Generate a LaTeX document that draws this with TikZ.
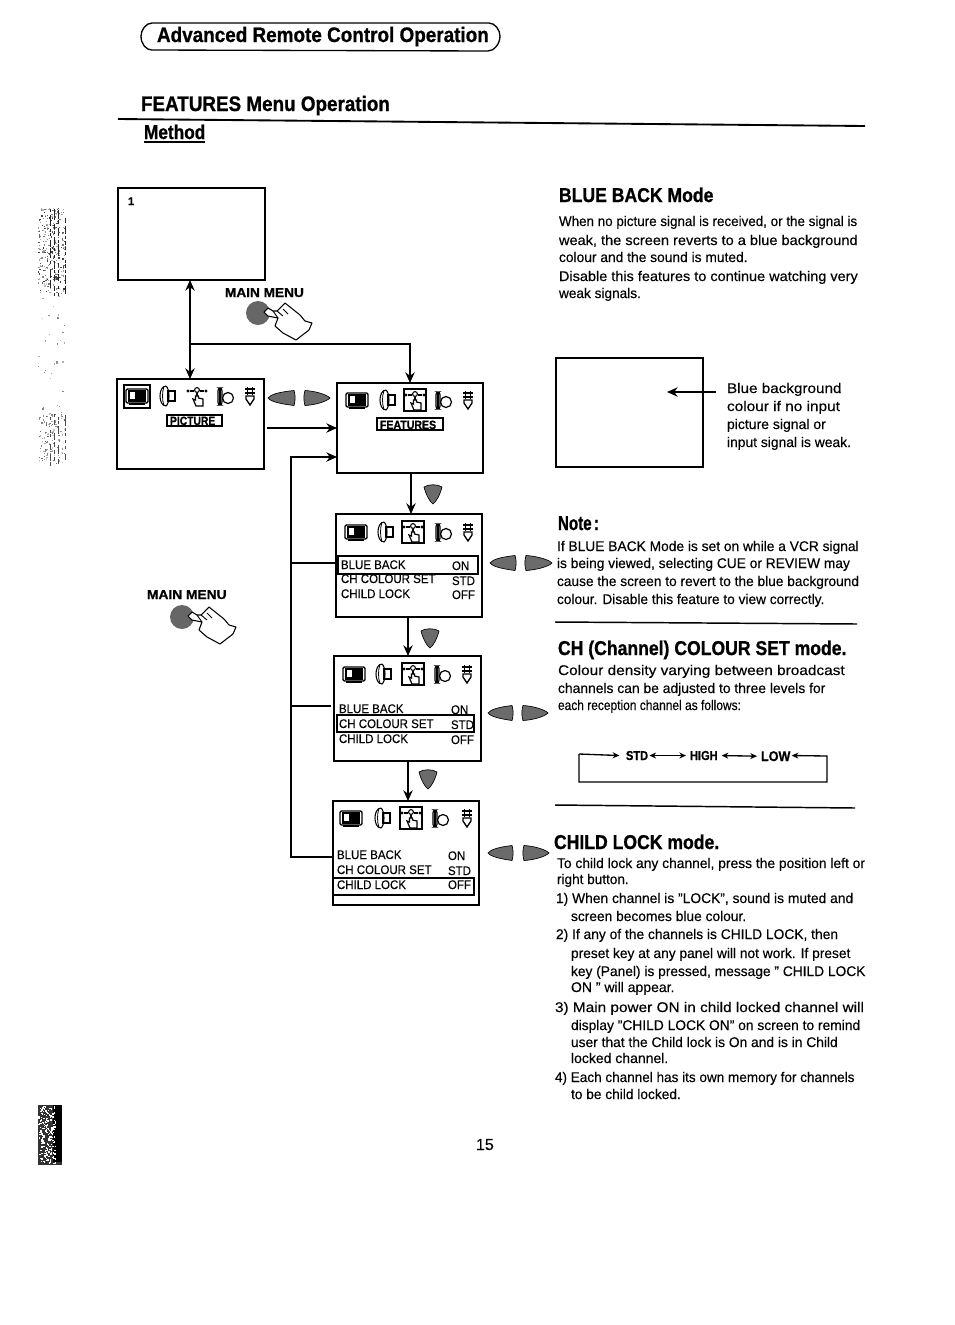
\documentclass[tikz,border=0pt]{standalone}
\usepackage{fontspec}
\setmainfont{Liberation Sans}[UprightFeatures={FakeBold=0.25},BoldFeatures={FakeBold=0.9}]
\usetikzlibrary{arrows.meta}
\newcounter{tlc}
\newcommand{\tl}[4][]{\stepcounter{tlc}\node[txt,name=t\arabic{tlc},#1] at (#2,#3) {#4};}
\newcommand{\fpx}[1]{\pgfmathsetmacro{\fzz}{#1*0.75}\fontsize{\fzz}{#1}\selectfont}
\newcommand{\scr}[5]{\node[screen,minimum width={(#4-#2)*0.75pt},minimum height={(#5-#3)*0.75pt}] (#1) at ({(#2+#4)/2},{(#3+#5)/2}) {};}
\newcommand{\coneL}[3]{\filldraw[conefill] (#1,#3) .. controls (#1+3,#3-4) and (#1+12,#3-6) .. (#2-1,#3-7.5) .. controls (#2+.5,#3-3) and (#2+.5,#3+3) .. (#2-1,#3+7.5) .. controls (#1+14,#3+6) and (#1+3,#3+4) .. (#1,#3) -- cycle;}
\newcommand{\coneR}[3]{\filldraw[conefill] (#1+1,#3-7.5) .. controls (#1+10,#3-7) and (#2-4,#3-4) .. (#2,#3) .. controls (#2-4,#3+4) and (#1+10,#3+7) .. (#1+1,#3+7.5) .. controls (#1-.5,#3+3) and (#1-.5,#3-3) .. (#1+1,#3-7.5) -- cycle;}
\newcommand{\pairLR}[5]{\coneL{#1}{#2}{#5}\coneR{#3}{#4}{#5}}
\newcommand{\coneD}[2]{\filldraw[conefill] (#1-9,#2) .. controls (#1-5,#2-3) and (#1+5,#2-3) .. (#1+9,#2) .. controls (#1+7,#2+8) and (#1+3,#2+15) .. (#1,#2+17) .. controls (#1-3,#2+15) and (#1-7,#2+8) .. (#1-9,#2) -- cycle;}
\newcommand{\icTV}[2]{\begin{scope}[shift={(#1,#2)}]
\draw[line width=1pt,rounded corners=1pt,fill=white] (-11,-7) rectangle (11,7);
\fill (-9,-6) rectangle (9,6);
\fill[white] (-7,-4) rectangle (-2,3);
\draw[line width=1.2pt] (-8,8) -- (8,8);
\end{scope}}
\newcommand{\icHorn}[2]{\begin{scope}[shift={(#1,#2)}]
\draw[line width=.8pt] (-1,-10) .. controls (-9,-10) and (-9,10) .. (-1,10) .. controls (3,7) and (3,-7) .. (-1,-10);
\draw[line width=.6pt] (-3,-9.5) .. controls (-5,-4) and (-5,4) .. (-3,9.5);
\draw[line width=.8pt] (1,-5) rectangle (8,5);
\end{scope}}
\newcommand{\icFeat}[2]{\begin{scope}[shift={(#1,#2)}]
\fill (-9,-5) circle (1.6) (9,-5) circle (1.6);
\draw[line width=.8pt] (0,-6) circle (2.4);
\draw[line width=.8pt] (-7,-5) -- (-3,-5) (3,-5) -- (7,-5) (0,-3) -- (0,0);
\draw[line width=.9pt,fill=white] (-1.5,0) -- (-1.5,4) -- (-4,3) -- (-1,10) -- (6,10) -- (6,3) -- (1.5,2) -- (1.5,0) -- cycle;
\end{scope}}
\newcommand{\icFeatBox}[2]{\draw[line width=.9pt] (#1-11,#2-11) rectangle (#1+11,#2+11);\icFeat{#1}{#2}}
\newcommand{\icBC}[2]{\begin{scope}[shift={(#1,#2)}]
\draw[line width=.9pt,rounded corners=2pt] (-7,-9) rectangle (-3,8);
\fill (-5.6,-9) rectangle (-4.4,8);
\draw[line width=.9pt] (3,1) circle (5.5);
\end{scope}}
\newcommand{\icPlug}[2]{\begin{scope}[shift={(#1,#2)}]
\draw[line width=1pt] (-5,-7) -- (5,-7) (-5,-3) -- (5,-3) (-2.5,-9) -- (-2.5,-1) (2.5,-9) -- (2.5,-1);
\draw[line width=1pt] (-4,0) -- (4,0) -- (4,3) -- (0,9) -- (-4,3) -- cycle;
\fill (-5,-4) rectangle (5,-2);
\end{scope}}
\newcommand{\hand}[2]{\begin{scope}[shift={(#1,#2)}]
\fill[black!60] (0,0) circle (12);
\draw[line width=.8pt,fill=white,line join=round] (10,-5) -- (15,-2) -- (19,-2) -- (27,-10) -- (42,2) -- (47,8) -- (54,10) -- (51,17) -- (38,27) -- (25,20) -- (17,13) -- (20,5) -- (10,3) -- (6,-1) -- cycle;
\draw[line width=.7pt] (15,-2) -- (20,5) (19,-2) -- (25,3) (25,-4) -- (30,1);
\end{scope}}
\tikzset{
 txt/.style={anchor=base west,inner sep=0pt,outer sep=0pt,font=\fpx{14}},
 screen/.style={draw=black,line width=1pt,fill=white,inner sep=0pt,outer sep=0pt},
 conefill/.style={fill=black!58,draw=black,line width=.5pt},
 line/.style={draw=black,line width=1.1pt},
 arr/.style={draw=black,line width=1.1pt,-{Stealth[length=8pt,width=7pt]}},
 darr/.style={draw=black,line width=1.1pt,{Stealth[length=8pt,width=7pt]}-{Stealth[length=8pt,width=7pt]}},
 hl/.style={draw=black,line width=.9pt},
 mi/.style={txt,font=\fpx{12.5},xscale=.92},
 head/.style={txt,font=\bfseries\fpx{20},xscale=.88},
 cyc/.style={draw=black,line width=1pt,{Stealth[length=5pt,width=4.5pt]}-{Stealth[length=5pt,width=4.5pt]}},
 cyca/.style={draw=black,line width=1pt,-{Stealth[length=5pt,width=4.5pt]}},
}
\begin{document}
\begin{tikzpicture}[x=.75pt,y=-.75pt,line cap=butt]
\fill[white] (0,0) rectangle (954,1325);
\useasboundingbox (0,0) rectangle (954,1325);
% scan noise
\pgfmathsetseed{11}
\foreach \i in {1,...,260}{
 \pgfmathsetmacro{\xx}{38+rnd*27}\pgfmathsetmacro{\yy}{208+rnd*85}\pgfmathsetmacro{\gg}{25+rnd*55}
 \fill[black!\gg] (\xx,\yy) rectangle ++(1.3,1.3);}
\foreach \i in {1,...,110}{
 \pgfmathsetmacro{\xx}{38+rnd*27}\pgfmathsetmacro{\yy}{413+rnd*50}\pgfmathsetmacro{\gg}{20+rnd*45}
 \fill[black!\gg] (\xx,\yy) rectangle ++(1.3,1.3);}
\foreach \i in {1,...,30}{
 \pgfmathsetmacro{\xx}{38+rnd*27}\pgfmathsetmacro{\yy}{293+rnd*120}\pgfmathsetmacro{\gg}{20+rnd*30}
 \fill[black!\gg] (\xx,\yy) rectangle ++(1.3,1.3);}
\foreach \cx in {50,54,58,65}{
 \foreach \i in {1,...,26}{
  \pgfmathsetmacro{\yy}{208+rnd*85}
  \fill[black!85] (\cx,\yy) rectangle ++(1.2,3);}
 \foreach \i in {1,...,12}{
  \pgfmathsetmacro{\yy}{413+rnd*50}
  \fill[black!70] (\cx,\yy) rectangle ++(1.2,3);}
}
\fill[black!80] (38,1105) rectangle (62,1165);
\fill[black] (53,1105) rectangle (62,1162);
\foreach \i in {1,...,190}{
 \pgfmathsetmacro{\xx}{38+rnd*17}\pgfmathsetmacro{\yy}{1105+rnd*58}
 \fill[white] (\xx,\yy) rectangle ++(1.4,1.4);}
% title
\draw[line width=1pt] (152,23) -- (489,23) .. controls (495,23) and (500,30) .. (500,36) .. controls (500,44) and (494,51) .. (488,51) -- (152,50) .. controls (146,50) and (141,44) .. (141,36) .. controls (141,30) and (146,23) .. (152,23) -- cycle;
\tl[font=\bfseries\fpx{21},xscale=.9]{157}{42}{Advanced Remote Control Operation}
\tl[head,font=\bfseries\fpx{21},xscale=1.02]{141}{111}{FEATURES Menu Operation}
\draw[line width=1.4pt] (118,119) -- (865,126);
\tl[head,font=\bfseries\fpx{20},xscale=.98]{144}{139}{Method}
\draw[line width=1.2pt] (144,142) -- (205,142);
% screens
\scr{scrone}{118}{188}{265}{280}
\scr{scrpic}{117}{379}{264}{469}
\scr{scrfeat}{337}{383}{483}{473}
\scr{scrblue}{336}{514}{482}{617}
\scr{scrch}{334}{656}{481}{761}
\scr{scrlock}{333}{801}{479}{905}
\scr{bluebox}{556}{358}{703}{467}
\tl[font=\bfseries\fpx{11}]{128}{205}{1}
% connectors
\coordinate (tee) at (190,344);
\path[darr] (tee |- scrone.south) -- (tee |- scrpic.north);
\path[arr] (tee) -| (scrfeat.north);
\coordinate (pf) at (0,428);
\path[arr] ([xshift=2pt]scrpic.east |- pf) -- (scrfeat.west |- pf);
\coordinate (bustop) at (291,457);
\coordinate (busone) at (291,563);
\coordinate (bustwo) at (291,706);
\coordinate (busbot) at (291,857);
\path[arr] (scrlock.west |- busbot) -- (busbot) -- (bustop) -- (scrfeat.west |- bustop);
\path[line] (busone) -- (scrblue.west |- busone);
\path[line] (bustwo) -- ([xshift=-2pt]scrch.west |- bustwo);
\coordinate (d1) at (411,0);
\coordinate (d2) at (408,0);
\path[arr] (d1 |- scrfeat.south) -- (d1 |- scrblue.north);
\path[arr] (d2 |- scrblue.south) -- (d2 |- scrch.north);
\path[arr] (d2 |- scrch.south) -- (d2 |- scrlock.north);
\coneD{433}{487}\coneD{430}{631}\coneD{428}{772}
\pairLR{268}{295}{304}{330}{398}
\pairLR{490}{516}{525}{552}{563}
\pairLR{488}{513}{522}{548}{713}
\pairLR{488}{513}{523}{549}{853}
% menu text
\tl[txt,font=\bfseries\fpx{13},xscale=1.05]{225}{297}{MAIN MENU}
\tl[txt,font=\bfseries\fpx{13},xscale=1.06]{147}{599}{MAIN MENU}
\hand{258}{313}\hand{182}{617}
% icons
\draw[line width=1.2pt] (124,385) rectangle (150,408);
\icTV{137}{396}\icHorn{167}{396}\icFeat{197}{396}\icBC{225}{397}\icPlug{250}{396}
\icTV{357}{400}\icHorn{387}{400}\icFeatBox{415}{400}\icBC{443}{401}\icPlug{468}{400}
\icTV{356}{532}\icHorn{385}{532}\icFeatBox{413}{532}\icBC{443}{533}\icPlug{468}{532}
\icTV{354}{674}\icHorn{383}{674}\icFeatBox{413}{674}\icBC{442}{675}\icPlug{467}{674}
\icTV{351}{818}\icHorn{382}{818}\icFeatBox{411}{818}\icBC{440}{819}\icPlug{467}{818}
\draw[line width=1pt] (167,415) rectangle (222,426);
\tl[font=\bfseries\fpx{12},xscale=.86]{170}{425}{PICTURE}
\draw[line width=1pt] (377,418) rectangle (443,430);
\tl[font=\bfseries\fpx{12},xscale=.88]{380}{429}{FEATURES}
% menus
\tl[mi]{341}{569}{BLUE BACK}\tl[mi]{452}{570}{ON}
\tl[mi]{341}{583}{CH COLOUR SET}\tl[mi]{452}{585}{STD}
\tl[mi]{341}{598}{CHILD LOCK}\tl[mi]{452}{599}{OFF}
\draw[hl] (338,556) rectangle (478,574);
\tl[mi]{339}{713}{BLUE BACK}\tl[mi]{451}{714}{ON}
\tl[mi]{339}{728}{CH COLOUR SET}\tl[mi]{451}{729}{STD}
\tl[mi]{339}{743}{CHILD LOCK}\tl[mi]{451}{744}{OFF}
\draw[hl] (337,715) rectangle (474,732);
\tl[mi]{337}{859}{BLUE BACK}\tl[mi]{448}{860}{ON}
\tl[mi]{337}{874}{CH COLOUR SET}\tl[mi]{448}{875}{STD}
\tl[mi]{337}{889}{CHILD LOCK}\tl[mi]{448}{889}{OFF}
\draw[hl] (333,878) rectangle (474,895);
% right column
\tl[head]{559}{202}{BLUE BACK Mode}
\tl[xscale=.958]{559}{226}{When no picture signal is received, or the signal is}
\tl[xscale=1.04]{559}{245}{weak, the screen reverts to a blue background}
\tl[xscale=.985]{559}{262}{colour and the sound is muted.}
\tl[xscale=1.035]{559}{281}{Disable this features to continue watching very}
\tl[xscale=.975]{559}{298}{weak signals.}
\coordinate (bbarrow) at (716,392);
\path[arr] (bbarrow) -- (667,392);
\tl[xscale=1.09]{727}{393}{Blue background}
\tl[xscale=1.1]{727}{411}{colour if no input}
\tl{727}{429}{picture signal or}
\tl[xscale=.99]{727}{447}{input signal is weak.}
\tl[head,xscale=.86]{558}{530}{Note\hspace{-.12em} :}
\tl[xscale=.984]{557}{551}{If BLUE BACK Mode is set on while a VCR signal}
\tl[xscale=.983]{557}{568}{is being viewed, selecting CUE or REVIEW may}
\tl[xscale=.98]{557}{586}{cause the screen to revert to the blue background}
\tl[xscale=.978]{557}{604}{colour. Disable this feature to view correctly.}
\draw[line width=1.1pt] (555,622) -- (857,624);
\tl[head]{558}{655}{CH (Channel) COLOUR SET mode.}
\tl[xscale=1.1]{558}{675}{Colour density varying between broadcast}
\tl[xscale=.99]{558}{693}{channels can be adjusted to three levels for}
\tl[xscale=.855]{558}{710}{each reception channel as follows:}
% cycle
\node[txt,font=\bfseries\fpx{13},xscale=.85] (cstd) at (626,760) {STD};
\node[txt,font=\bfseries\fpx{13},xscale=.85] (chigh) at (690,760) {HIGH};
\node[txt,font=\bfseries\fpx{14},xscale=.9] (clow) at (761,761) {LOW};
\coordinate (cyl) at (579,782);
\coordinate (cyr) at (827,782);
\coordinate (cytl) at (579,754);
\coordinate (cytr) at (827,756);
\path[cyca] (cytl) -- (cyl) -- (cyr) -- (cytr) -- ([xshift=1pt,yshift=.5pt]clow.east);
\path[cyca] (cytl) -- ([xshift=-5pt]cstd.west);
\path[cyc] ([xshift=1pt]cstd.east) -- ([xshift=-3pt]chigh.west);
\path[cyc] ([xshift=3pt]chigh.east) -- ([xshift=-3pt]clow.west);
\draw[line width=1.1pt] (555,805) -- (855,808);
\tl[head]{554}{849}{CHILD LOCK mode.}
\tl[xscale=.987]{557}{868}{To child lock any channel, press the position left or}
\tl[xscale=.97]{557}{884}{right button.}
\tl[xscale=.987]{556}{903}{1) When channel is "LOCK", sound is muted and}
\tl[xscale=.983]{571}{921}{screen becomes blue colour.}
\tl[xscale=.985]{556}{939}{2) If any of the channels is CHILD LOCK, then}
\tl[xscale=.982]{571}{958}{preset key at any panel will not work. If preset}
\tl[xscale=.983]{571}{976}{key (Panel) is pressed, message " CHILD LOCK}
\tl{571}{992}{ON " will appear.}
\tl[xscale=1.097]{555}{1012}{3) Main power ON in child locked channel will}
\tl[xscale=.986]{571}{1030}{display "CHILD LOCK ON" on screen to remind}
\tl[xscale=.985]{571}{1047}{user that the Child lock is On and is in Child}
\tl{571}{1063}{locked channel.}
\tl[xscale=.967]{555}{1082}{4) Each channel has its own memory for channels}
\tl[xscale=.98]{571}{1099}{to be child locked.}
\tl[font=\fpx{16}]{476}{1150}{15}
\end{tikzpicture}
\end{document}
